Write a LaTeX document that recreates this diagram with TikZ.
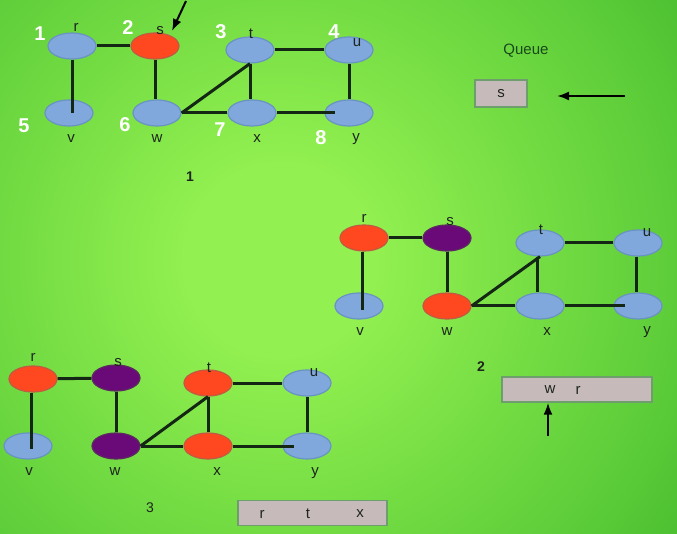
\documentclass[tikz,border=0pt]{standalone}
\usepackage{fontspec}
\setmainfont{Liberation Sans}
\usetikzlibrary{shapes.geometric,arrows.meta}
\definecolor{bgin}{HTML}{92F050}
\definecolor{bgmid}{HTML}{5ACB38}
\definecolor{bgout}{HTML}{40B62C}
\definecolor{nblue}{HTML}{80A8DC}
\definecolor{nbluedraw}{HTML}{6A92C2}
\definecolor{nred}{HTML}{FF4820}
\definecolor{nreddraw}{HTML}{C05A40}
\definecolor{npurple}{HTML}{6A0A78}
\definecolor{npurpledraw}{HTML}{5A2A60}
\definecolor{qfill}{HTML}{C6BABA}
\definecolor{qdraw}{HTML}{6E9E6E}
\definecolor{edgec}{HTML}{142614}
\definecolor{labc}{HTML}{1E241E}
\definecolor{queuec}{HTML}{1A4A1A}
\pgfdeclareradialshading{bgshade}{\pgfpoint{0bp}{0bp}}{color(0bp)=(bgin); color(4bp)=(bgin); color(17bp)=(bgmid); color(23bp)=(bgout); color(50bp)=(bgout)}
\tikzset{
  vtx/.style={ellipse, minimum width=48pt, minimum height=26pt, inner sep=0pt, line width=1.2pt},
  bluev/.style={vtx, fill=nblue, draw=nbluedraw},
  redv/.style={vtx, fill=nred, draw=nreddraw},
  purpv/.style={vtx, fill=npurple, draw=npurpledraw},
  conn/.style={draw=edgec, line width=3pt},
  lab/.style={font=\fontsize{15}{15}\selectfont, text=labc, inner sep=0pt},
  numtxt/.style={font=\bfseries\fontsize{20}{20}\selectfont, text=white, inner sep=0pt},
  captxt/.style={font=\bfseries\fontsize{14}{14}\selectfont, text=labc, inner sep=0pt},
  qbox/.style={draw=qdraw, fill=qfill, line width=1.4pt, inner sep=0pt, font=\fontsize{15}{15}\selectfont, text=labc},
  arr/.style={draw=black, line width=2pt, -{Latex[length=12pt,width=9pt]}}
}
\begin{document}
\begin{tikzpicture}[x=1pt,y=-1pt]
\useasboundingbox (0,0) rectangle (677,534);
\begin{scope}
\clip (0,0) rectangle (677,534);
\fill[bgout] (0,0) rectangle (677,534);
\shade[shading=bgshade] (280,260) circle (600);
\end{scope}

% ---------- Graph 1 ----------
\node[bluev] (ar) at (72,46) {};
\node[redv] (as) at (155,46) {};
\node[bluev] (at) at (250,50) {};
\node[bluev] (au) at (349,50) {};
\node[bluev] (av) at (69,113) {};
\node[bluev] (aw) at (157,113) {};
\node[bluev] (ax) at (252,113) {};
\node[bluev] (ay) at (349,113) {};
\draw[conn] (ar) -- (as);
\draw[conn] (ar.south) -- (ar.south |- av.center);
\draw[conn] (as.south) -- (as.south |- aw.north);
\draw[conn] (at) -- (au);
\draw[conn] (aw.east) -- (at.south);
\draw[conn] (at.south) -- (at.south |- ax.north);
\draw[conn] (aw) -- (ax);
\draw[conn] (ax.east) -- ([xshift=-14pt]ay.center);
\draw[conn] (au.south) -- (ay.north);
\node[lab] (lar) at (76,27) {r};
\node[lab] (las) at (160,31) {s};
\node[lab] (lat) at (251,34) {t};
\node[lab] (lau) at (357,43) {u};
\node[lab] (lav) at (71,139) {v};
\node[lab] (law) at (157,139) {w};
\node[lab] (lax) at (257,139) {x};
\node[lab] (lay) at (356,139) {y};
\node[numtxt] (n1) at (40,34) {1};
\node[numtxt] (n2) at (128,28) {2};
\node[numtxt] (n3) at (221,32) {3};
\node[numtxt] (n4) at (334,32) {4};
\node[numtxt] (n5) at (24,126) {5};
\node[numtxt] (n6) at (125,125) {6};
\node[numtxt] (n7) at (220,130) {7};
\node[numtxt] (n8) at (321,138) {8};
\node[captxt] (c1) at (190,177) {1};
\coordinate (sarrow) at (186,1);
\coordinate (sarrowend) at (172,31);
\draw[arr] (sarrow) -- (sarrowend);
\node[font=\fontsize{15}{15}\selectfont, text=queuec, inner sep=0pt] (queue) at (526,51) {Queue};
\node[qbox, minimum width=52pt, minimum height=27pt] (q1) at (501,93.5) {s};
\coordinate (q1tail) at (625,96);
\coordinate (q1head) at (557,96);
\draw[arr] (q1tail) -- (q1head);

% ---------- Graph 2 ----------
\node[redv] (br) at (364,238) {};
\node[purpv] (bs) at (447,238) {};
\node[bluev] (bt) at (540,243) {};
\node[bluev] (bu) at (638,243) {};
\node[bluev] (bv) at (359,306) {};
\node[redv] (bw) at (447,306) {};
\node[bluev] (bx) at (540,306) {};
\node[bluev] (by) at (638,306) {};
\draw[conn] (br) -- (bs);
\draw[conn] ([xshift=-2pt]br.south) -- ([xshift=-2pt,yshift=-4pt]br.south |- bv.center);
\draw[conn] (bs) -- (bw);
\draw[conn] (bt) -- (bu);
\draw[conn] (bw.east) -- (bt.south);
\draw[conn] ([xshift=-3pt]bt.south) -- ([xshift=-3pt]bt.south |- bx.north);
\draw[conn] (bw) -- (bx);
\draw[conn] (bx.east) -- ([xshift=-13pt]by.center);
\draw[conn] ([xshift=-2pt]bu.south) -- ([xshift=-2pt]by.north);
\node[lab] (lbr) at (364,218) {r};
\node[lab] (lbs) at (450,222) {s};
\node[lab] (lbt) at (541,230) {t};
\node[lab] (lbu) at (647,233) {u};
\node[lab] (lbv) at (360,332) {v};
\node[lab] (lbw) at (447,332) {w};
\node[lab] (lbx) at (547,332) {x};
\node[lab] (lby) at (647,332) {y};
\node[captxt] (c2) at (481,367) {2};
\node[qbox, minimum width=150pt, minimum height=25pt] (q2) at (577,389.5) {};
\node[lab] (q2w) at (550,390) {w};
\node[lab] (q2r) at (578,390) {r};
\coordinate (q2tail) at (548,436);
\draw[arr] (q2tail) -- (q2.south -| q2tail);

% ---------- Graph 3 ----------
\node[redv] (cr) at (33,379) {};
\node[purpv] (cs) at (116,378) {};
\node[redv] (ct) at (208,383) {};
\node[bluev] (cu) at (307,383) {};
\node[bluev] (cv) at (28,446) {};
\node[purpv] (cw) at (116,446) {};
\node[redv] (cx) at (208,446) {};
\node[bluev] (cy) at (307,446) {};
\draw[conn] (cr) -- (cs);
\draw[conn] ([xshift=-2pt]cr.south) -- ([xshift=-2pt,yshift=-3pt]cr.south |- cv.center);
\draw[conn] (cs) -- (cw);
\draw[conn] (ct) -- (cu);
\draw[conn] (cw.east) -- (ct.south);
\draw[conn] (ct.south) -- (cx.north);
\draw[conn] (cw) -- (cx);
\draw[conn] (cx.east) -- ([xshift=-13pt]cy.center);
\draw[conn] (cu.south) -- (cy.north);
\node[lab] (lcr) at (33,357) {r};
\node[lab] (lcs) at (118,363) {s};
\node[lab] (lct) at (209,368) {t};
\node[lab] (lcu) at (314,373) {u};
\node[lab] (lcv) at (29,472) {v};
\node[lab] (lcw) at (115,472) {w};
\node[lab] (lcx) at (217,472) {x};
\node[lab] (lcy) at (315,473) {y};
\node[lab, font=\fontsize{14}{14}\selectfont] (c3) at (150,508) {3};
\node[qbox, minimum width=149pt, minimum height=25pt] (q3) at (312.5,513) {};
\node[lab] (q3r) at (262,514) {r};
\node[lab] (q3t) at (308,514) {t};
\node[lab] (q3x) at (360,514) {x};
\end{tikzpicture}
\end{document}
